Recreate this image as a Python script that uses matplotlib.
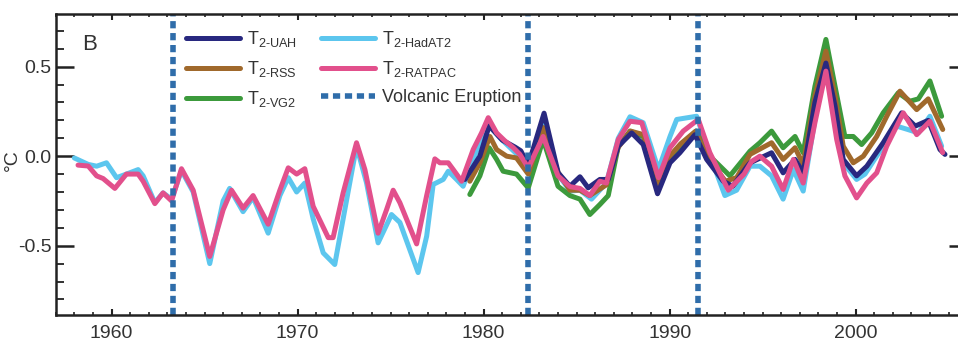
import matplotlib
matplotlib.use("Agg")
import matplotlib.pyplot as plt
from matplotlib.ticker import MultipleLocator

plt.rcParams['font.family'] = ['Liberation Sans', 'DejaVu Sans']
plt.rcParams['mathtext.fontset'] = 'custom'
plt.rcParams['mathtext.rm'] = 'Liberation Sans'
plt.rcParams['mathtext.it'] = 'Liberation Sans'
plt.rcParams['axes.unicode_minus'] = False

# ---------------- data ----------------
ratpac_years = [1958.2, 1958.75, 1959.2, 1959.55, 1960.18, 1960.8, 1961.43, 1961.7, 1962.33, 1962.77,
                1963.23, 1963.76, 1964.39, 1965.28, 1966.0, 1966.45, 1967.07, 1967.61, 1968.42, 1969.05,
                1969.5, 1969.95, 1970.39, 1970.84, 1971.65, 1971.91, 1972.45, 1973.17, 1973.62, 1974.33,
                1974.78, 1975.14, 1975.5, 1976.4, 1976.94, 1977.38, 1977.65, 1978.1, 1978.37, 1978.82,
                1979.44, 1979.89, 1980.25, 1980.7, 1981.15, 1981.6, 1981.95, 1982.4, 1983.2, 1984.0,
                1984.64, 1985.18, 1985.71, 1986.25, 1986.6, 1987.24, 1987.87, 1988.5, 1989.4, 1990.02,
                1990.73, 1991.54, 1992.16, 1993.15, 1994.0, 1994.4, 1994.85, 1995.48, 1996.1, 1996.65,
                1997.18, 1997.81, 1998.4, 1998.98, 1999.42, 2000.05, 2000.6, 2001.13, 2001.67, 2002.56,
                2003.28, 2003.99, 2004.68]
ratpac_vals = [-0.05, -0.055, -0.11, -0.125, -0.18, -0.10, -0.10, -0.14, -0.265, -0.205,
               -0.25, -0.07, -0.19, -0.56, -0.30, -0.19, -0.29, -0.22, -0.38, -0.19,
               -0.065, -0.10, -0.07, -0.28, -0.455, -0.455, -0.205, 0.075, -0.075, -0.43,
               -0.30, -0.19, -0.26, -0.49, -0.22, -0.015, -0.037, -0.037, -0.075, -0.14,
               0.037, 0.13, 0.215, 0.13, 0.085, 0.047, 0.01, -0.065, 0.11, -0.11,
               -0.17, -0.18, -0.22, -0.14, -0.15, 0.093, 0.195, 0.187, -0.12, 0.047,
               0.14, 0.205, 0.02, -0.19, -0.10, -0.03, 0.0, -0.056, -0.186, -0.018,
               -0.15, 0.187, 0.475, 0.093, -0.11, -0.233, -0.15, -0.093, 0.056, 0.242,
               0.12, 0.195, 0.02]

hadat2_years = [1958.0, 1958.75, 1959.2, 1959.73, 1960.27, 1960.8, 1961.43, 1961.7, 1962.33, 1962.77,
                1963.23, 1963.76, 1964.39, 1965.28, 1966.0, 1966.35, 1967.07, 1967.61, 1968.42, 1969.05,
                1969.5, 1969.95, 1970.39, 1970.84, 1971.38, 1972.0, 1972.45, 1973.17, 1973.71, 1974.33,
                1975.05, 1975.5, 1976.48, 1976.94, 1977.29, 1977.83, 1978.1, 1978.55, 1978.9, 1979.44,
                1980.07, 1980.3, 1980.9, 1981.6, 1982.4, 1983.2, 1984.0, 1984.64, 1985.18, 1985.8,
                1986.6, 1987.24, 1987.87, 1988.58, 1989.4, 1990.02, 1990.38, 1991.45, 1991.99, 1992.97,
                1993.6, 1994.32, 1994.85, 1995.48, 1996.1, 1996.65, 1997.18, 1997.81, 1998.4, 1998.89,
                1999.33, 2000.05, 2000.5, 2001.48, 2002.2, 2002.8, 2003.37, 2003.99, 2004.62]
hadat2_vals = [-0.01, -0.046, -0.056, -0.037, -0.12, -0.10, -0.075, -0.11, -0.26, -0.205,
               -0.24, -0.08, -0.20, -0.60, -0.25, -0.18, -0.31, -0.23, -0.43, -0.22,
               -0.12, -0.20, -0.15, -0.35, -0.54, -0.605, -0.35, 0.056, -0.15, -0.484,
               -0.326, -0.37, -0.65, -0.447, -0.158, -0.13, -0.084, -0.13, -0.168, -0.02,
               0.15, 0.17, 0.10, 0.03, -0.05, 0.187, -0.10, -0.195, -0.19, -0.24,
               -0.15, 0.10, 0.22, 0.187, -0.075, 0.11, 0.205, 0.223, 0.056, -0.22,
               -0.19, -0.056, -0.056, -0.11, -0.24, -0.075, -0.195, 0.205, 0.53, 0.242,
               -0.037, -0.13, -0.10, 0.056, 0.168, 0.149, 0.13, 0.223, 0.056]

uah_years = [1979.0, 1979.8, 1980.3, 1981.0, 1981.7, 1982.0, 1982.4, 1983.25, 1984.01, 1984.64,
             1985.18, 1985.62, 1986.25, 1986.7, 1987.24, 1987.96, 1988.58, 1989.35, 1990.02, 1990.55,
             1991.36, 1991.99, 1992.88, 1993.4, 1994.14, 1994.32, 1995.48, 1996.1, 1996.74, 1997.18,
             1997.81, 1998.4, 1998.89, 1999.33, 2000.05, 2000.6, 2001.48, 2002.47, 2003.2, 2003.9,
             2004.53, 2004.8]
uah_vals = [-0.13, 0.0, 0.17, 0.09, 0.05, 0.03, -0.05, 0.24, -0.093, -0.168,
            -0.115, -0.177, -0.13, -0.13, 0.056, 0.13, 0.065, -0.21, -0.037, 0.019,
            0.12, -0.018, -0.14, -0.168, -0.06, -0.037, 0.019, -0.093, -0.018, -0.093,
            0.30, 0.52, 0.28, -0.018, -0.11, -0.056, 0.075, 0.242, 0.168, 0.20,
            0.037, 0.01]

rss_years = [1979.26, 1979.8, 1980.34, 1980.7, 1981.24, 1981.77, 1982.4, 1983.2, 1984.0, 1984.64,
             1985.18, 1985.7, 1986.6, 1987.24, 1987.9, 1988.6, 1989.3, 1990.0, 1990.6, 1991.4,
             1992.0, 1993.0, 1993.6, 1994.32, 1995.48, 1996.1, 1996.74, 1997.18, 1997.81, 1998.4,
             1998.89, 1999.33, 1999.87, 2000.41, 2001.13, 2001.67, 2002.38, 2003.28, 2003.9, 2004.68]
rss_vals = [-0.14, -0.037, 0.11, 0.037, 0.0, -0.01, -0.10, 0.16, -0.09, -0.19,
            -0.19, -0.22, -0.16, 0.05, 0.14, 0.12, -0.16, 0.0, 0.07, 0.14,
            0.0, -0.14, -0.12, 0.01, 0.075, -0.018, 0.047, -0.046, 0.335, 0.587,
            0.335, 0.056, -0.037, 0.0, 0.11, 0.223, 0.363, 0.26, 0.32, 0.149]

vg2_years = [1979.26, 1979.8, 1980.3, 1980.7, 1981.05, 1981.77, 1982.4, 1983.2, 1984.0, 1984.64,
             1985.18, 1985.71, 1986.25, 1986.7, 1987.24, 1987.87, 1988.58, 1989.4, 1990.02, 1990.73,
             1991.45, 1992.16, 1993.24, 1994.32, 1994.85, 1995.48, 1996.1, 1996.74, 1997.18, 1997.81,
             1998.4, 1998.89, 1999.42, 1999.87, 2000.32, 2000.86, 2001.48, 2002.29, 2002.92, 2003.37,
             2003.99, 2004.62]
vg2_vals = [-0.214, -0.11, 0.047, -0.018, -0.084, -0.10, -0.177, 0.093, -0.168, -0.22,
            -0.24, -0.326, -0.27, -0.22, 0.056, 0.14, 0.11, -0.168, 0.0, 0.06,
            0.14, 0.0, -0.11, 0.028, 0.075, 0.14, 0.047, 0.11, 0.019, 0.39,
            0.652, 0.39, 0.11, 0.11, 0.065, 0.13, 0.242, 0.354, 0.307, 0.32,
            0.42, 0.223]

eruption_years = [1963.3, 1982.4, 1991.5]

labels = {
    'uah': r'T$_{\mathrm{2\text{-}UAH}}$',
    'rss': r'T$_{\mathrm{2\text{-}RSS}}$',
    'vg2': r'T$_{\mathrm{2\text{-}VG2}}$',
    'had': r'T$_{\mathrm{2\text{-}HadAT2}}$',
    'rat': r'T$_{\mathrm{2\text{-}RATPAC}}$',
}

c_uah = '#28287f'
c_rss = '#a0692c'
c_vg2 = '#3c9a3c'
c_had = '#5cc6ee'
c_rat = '#e2508c'
c_volc = '#2f6daa'

# ---------------- figure ----------------
W, H = 958, 340
fig = plt.figure(figsize=(W / 100, H / 100), dpi=100)
left, right, top, bottom = 55.7, 967.3, 14, 315
ax = fig.add_axes([left / W, (H - bottom) / H, (right - left) / W, (bottom - top) / H])

lw = 3.6
kw = dict(lw=lw, solid_joinstyle='round', solid_capstyle='round')
l_had, = ax.plot(hadat2_years, hadat2_vals, color=c_had, label=labels['had'], **kw)
l_vg2, = ax.plot(vg2_years, vg2_vals, color=c_vg2, label=labels['vg2'], **kw)
l_rss, = ax.plot(rss_years, rss_vals, color=c_rss, label=labels['rss'], **kw)
l_uah, = ax.plot(uah_years, uah_vals, color=c_uah, label=labels['uah'], **kw)
l_rat, = ax.plot(ratpac_years, ratpac_vals, color=c_rat, label=labels['rat'], **kw)

l_volc = None
for ey in eruption_years:
    l_volc = ax.axvline(ey, color=c_volc, lw=4.0, linestyle=(0, (1.3, 0.85)),
                        label='Volcanic Eruption')

ax.set_xlim(1957, 2006)
ax.set_ylim(-0.887, 0.794)

ax.xaxis.set_major_locator(MultipleLocator(10))
ax.xaxis.set_minor_locator(MultipleLocator(1))
ax.yaxis.set_major_locator(MultipleLocator(0.5))
ax.yaxis.set_minor_locator(MultipleLocator(0.1))
ax.yaxis.set_major_formatter(matplotlib.ticker.FormatStrFormatter('%.1f'))

ax.tick_params(axis='x', which='major', direction='in', length=4, width=1.5, top=True,
               labelsize=14, pad=7, colors='#222222', labelcolor='#333333')
ax.tick_params(axis='x', which='minor', direction='in', length=2.5, width=1.2, top=True,
               colors='#222222')
ax.tick_params(axis='y', which='major', direction='in', length=13, width=1.8, right=True,
               labelsize=14, pad=3, colors='#222222', labelcolor='#333333')
ax.tick_params(axis='y', which='minor', direction='in', length=6, width=1.3, right=True,
               colors='#222222')
for s in ax.spines.values():
    s.set_linewidth(1.8)
    s.set_color('#222222')

fig.text(12 / W, 1 - 160 / H, '°C', rotation=90, fontsize=14, color='#333333',
         va='center', ha='center')
ax.text(82 / W, 1 - 45 / H, 'B', transform=fig.transFigure, fontsize=16, color='#333333',
        va='center', ha='left')

handles = [l_uah, l_rss, l_vg2, l_had, l_rat, l_volc]
lab = [labels['uah'], labels['rss'], labels['vg2'], labels['had'], labels['rat'], 'Volcanic Eruption']
leg = ax.legend(handles, lab, ncol=2, loc='upper left',
                bbox_to_anchor=((186 - left) / (right - left), 1 - (29 - top) / (bottom - top)),
                frameon=False, fontsize=13, handlelength=3.0, handletextpad=0.4,
                columnspacing=1.3, labelspacing=0.55, borderpad=0, borderaxespad=0)
for t in leg.get_texts():
    t.set_color('#333333')

fig.savefig('out.png', dpi=100)
